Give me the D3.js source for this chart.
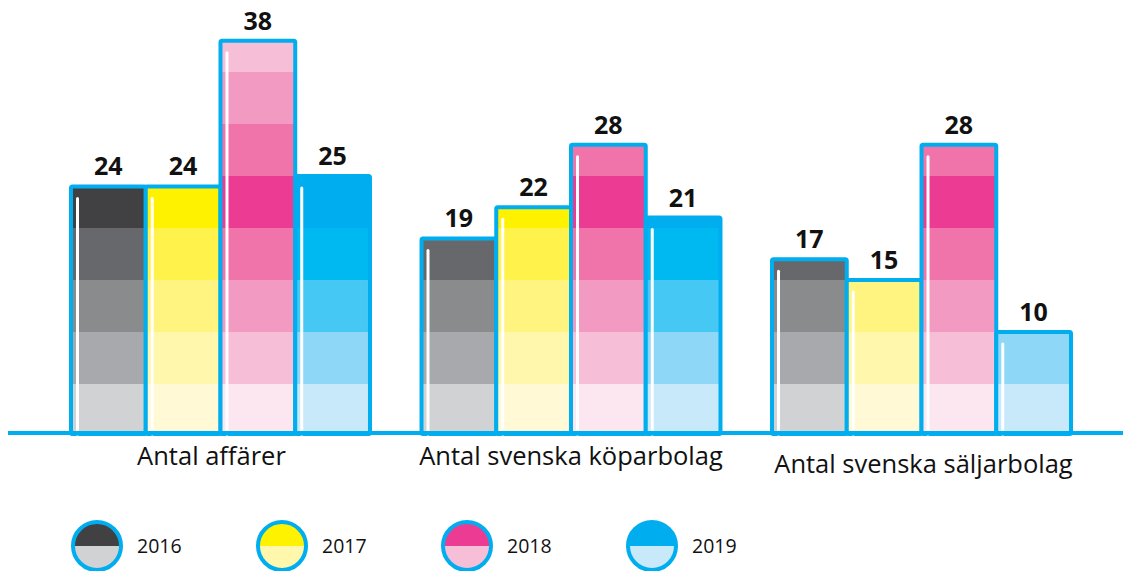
<!DOCTYPE html>
<html>
<head>
<meta charset="utf-8">
<script src="https://cdn.jsdelivr.net/npm/d3@7"></script>
<style>
  body { margin: 0; background: #fff; }
  svg { display: block; font-family: "Open Sans", "Noto Sans", sans-serif; }
</style>
</head>
<body>
<script>
var categories = ['Antal affärer', 'Antal svenska köparbolag', 'Antal svenska säljarbolag'];
var years = ['2016', '2017', '2018', '2019'];
var values2016 = [24, 19, 17];
var values2017 = [24, 22, 15];
var values2018 = [38, 28, 28];
var values2019 = [25, 21, 10];
var bandStep = 5;

var shades = {
  '2016': ['#d1d2d4', '#a8a9ac', '#8a8b8d', '#67686b', '#414042'],
  '2017': ['#fffad5', '#fff7ab', '#fff480', '#fff34b', '#fff200'],
  '2018': ['#fce6f0', '#f7bfd7', '#f39ac2', '#f073a9', '#ec3b93'],
  '2019': ['#c7e9f9', '#8ed7f6', '#45c8f4', '#00b9f1', '#00aeef']
};
var legendLight = { '2016': 0, '2017': 1, '2018': 1, '2019': 0 };
var blue = '#00aeef';

var width = 1123, height = 571;
var series = { '2016': values2016, '2017': values2017, '2018': values2018, '2019': values2019 };

var data = [];
categories.forEach(function(cat, i) {
  years.forEach(function(yr) {
    data.push({ cat: cat, year: yr, value: series[yr][i] });
  });
});

var svg = d3.select('body').append('svg')
    .attr('width', width)
    .attr('height', height);

var x0 = d3.scaleBand()
    .domain(categories)
    .range([71, 1071])
    .paddingInner(0.147)
    .paddingOuter(0);

var x1 = d3.scaleBand()
    .domain(years)
    .range([0, x0.bandwidth()])
    .padding(0);

var y = d3.scaleLinear()
    .domain([0, 40])
    .range([436, 20]);

// shade index goes up to the darkest band, then back down
function shadeIndex(k) {
  return k < 5 ? k : 8 - k;
}

var bars = svg.append('g').selectAll('g.bar')
    .data(data)
    .enter()
    .append('g')
    .attr('class', 'bar')
    .attr('transform', function(d) { return 'translate(' + (x0(d.cat) + x1(d.year)) + ',0)'; });

bars.each(function(d) {
  var g = d3.select(this);
  var w = x1.bandwidth();
  var bands = d3.range(Math.ceil(d.value / bandStep)).map(function(k) {
    return { k: k, lo: k * bandStep, hi: Math.min(d.value, (k + 1) * bandStep) };
  });
  g.selectAll('rect.band')
      .data(bands)
      .enter()
      .append('rect')
      .attr('class', 'band')
      .attr('x', 0)
      .attr('width', w)
      .attr('y', function(b) { return y(b.hi); })
      .attr('height', function(b) { return y(b.lo) - y(b.hi); })
      .attr('fill', function(b) { return shades[d.year][shadeIndex(b.k)]; });

  g.append('rect')
      .attr('x', 0)
      .attr('y', y(d.value))
      .attr('width', w)
      .attr('height', y(0) - 2 - y(d.value))
      .attr('rx', 1.5)
      .attr('fill', 'none')
      .attr('stroke', blue)
      .attr('stroke-width', 4);

  g.append('line')
      .attr('x1', 6.5)
      .attr('x2', 6.5)
      .attr('y1', y(d.value) + 12)
      .attr('y2', y(0) - 2)
      .attr('stroke', '#fff')
      .attr('stroke-width', 3)
      .attr('stroke-linecap', 'round');
});

svg.append('line')
    .attr('x1', 8)
    .attr('x2', width)
    .attr('y1', 433)
    .attr('y2', 433)
    .attr('stroke', blue)
    .attr('stroke-width', 4);

svg.append('g').selectAll('text')
    .data(data)
    .enter()
    .append('text')
    .attr('x', function(d) { return x0(d.cat) + x1(d.year) + x1.bandwidth() / 2; })
    .attr('y', function(d) { return y(d.value) - 11; })
    .attr('text-anchor', 'middle')
    .attr('font-size', 25)
    .attr('font-weight', 700)
    .attr('fill', '#111')
    .text(function(d) { return d.value; });

// category labels (the third one sits a little lower in the original)
var labelShift = [[-9, 0], [0, 0], [2, 8]];
svg.append('g').selectAll('text')
    .data(categories)
    .enter()
    .append('text')
    .attr('x', function(d, i) { return x0(d) + x0.bandwidth() / 2 + labelShift[i][0]; })
    .attr('y', function(d, i) { return 465 + labelShift[i][1]; })
    .attr('text-anchor', 'middle')
    .attr('font-size', 25.5)
    .attr('fill', '#111')
    .text(function(d) { return d; });

// legend
var legend = svg.append('g').selectAll('g')
    .data(years)
    .enter()
    .append('g')
    .attr('transform', function(d, i) { return 'translate(' + (97 + i * 185) + ',546)'; });

var r = 24;
legend.append('path')
    .attr('d', d3.arc()({ innerRadius: 0, outerRadius: r, startAngle: -Math.PI / 2, endAngle: Math.PI / 2 }))
    .attr('fill', function(d) { return shades[d][4]; });
legend.append('path')
    .attr('d', d3.arc()({ innerRadius: 0, outerRadius: r, startAngle: Math.PI / 2, endAngle: Math.PI * 1.5 }))
    .attr('fill', function(d) { return shades[d][legendLight[d]]; });
legend.append('circle')
    .attr('r', r)
    .attr('fill', 'none')
    .attr('stroke', blue)
    .attr('stroke-width', 4);
legend.append('text')
    .attr('x', 40)
    .attr('y', 7)
    .attr('font-size', 19.5)
    .attr('fill', '#111')
    .text(function(d) { return d; });
</script>
</body>
</html>
